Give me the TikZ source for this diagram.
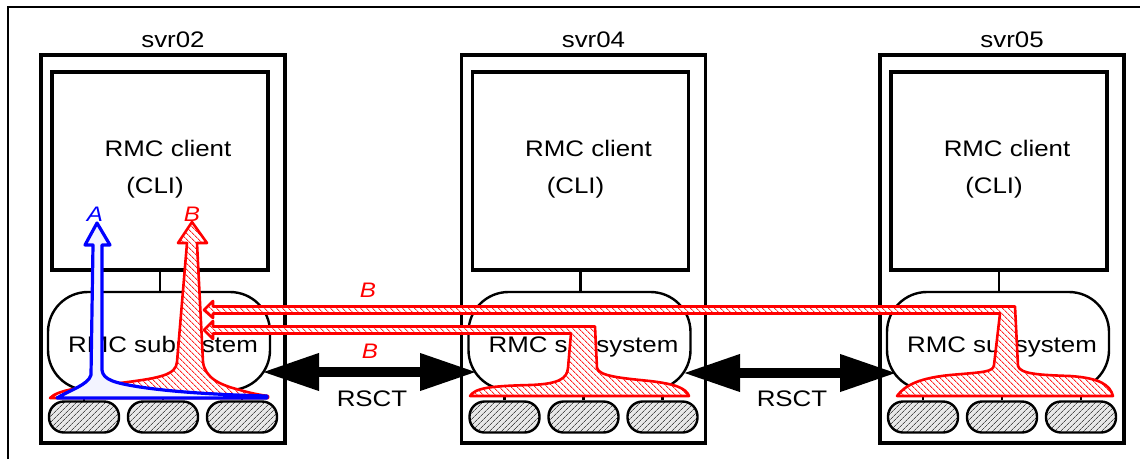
\documentclass[tikz,border=0pt]{standalone}
\usepackage{fontspec}
\setmainfont{Liberation Sans}[FakeStretch=1.15]
\usetikzlibrary{arrows.meta,patterns.meta}
\definecolor{afill}{RGB}{243,244,255}
\begin{document}
\begin{tikzpicture}[x=1pt,y=-1pt,
  every node/.style={font=\fontsize{22.5}{27}\selectfont, inner sep=0pt},
  srvbox/.style={draw, line width=3.4pt, minimum width=244pt, minimum height=388pt},
  clibox/.style={draw, line width=3.4pt, minimum width=216pt, minimum height=198pt},
  subbox/.style={draw, line width=2.4pt, rounded corners=40pt, minimum width=222pt, minimum height=98pt},
  diskbox/.style={draw, line width=2.4pt, rounded corners=15pt, minimum width=70pt, minimum height=31pt,
    preaction={fill=gray!18}, pattern={Lines[angle=45,distance=4pt,line width=0.8pt]}, pattern color=black!70},
  tick/.style={line width=2.4pt},
  rsct/.style={line width=10pt, {Triangle[length=57pt,width=35pt]}-{Triangle[length=57pt,width=35pt]}},
  redshape/.style={draw=red, line width=2.6pt, line join=round, preaction={fill=white},
    pattern={Lines[angle=-45,distance=4pt,line width=0.9pt]}, pattern color=red!85},
  blueshape/.style={draw=blue, line width=3.2pt, line join=round, fill=afill},
  lbl/.style={font=\fontsize{21}{24}\selectfont\itshape, anchor=base},
  frame/.style={line width=1.2pt}
]
\useasboundingbox (0,0) rectangle (1140,459);
\draw[frame] (8,459) -- (8,7) -- (1140,7);

\foreach \n/\cx in {02/163, 04/583.5, 05/1002} {
  \node[srvbox] (srv\n) at (\cx,249) {};
  \node[anchor=base] (lab\n) at (\cx+10,47) {svr\n};
  \node[clibox] (cli\n) at (\cx-3,171) {};
  \node[anchor=base] (clt\n) at (\cx+5,156.5) {RMC client};
  \node[anchor=base] (clc\n) at (\cx-8,193) {(CLI)};
  \node[subbox] (ss\n) at (\cx-4,341) {};
  \node[anchor=base] (sst\n) at (\cx,352) {RMC subsystem};
  \draw[tick] (cli\n.south) -- (cli\n.south |- ss\n.north);
  \foreach \k/\dx in {1/-79,2/0,3/79} {
    \node[diskbox] (dk\n\k) at (\cx+\dx,417) {};
    \draw[tick] (dk\n\k.north) -- (dk\n\k.north |- ss\n.south);
  }
}

% RSCT connections
\coordinate (r1a) at (262,372);
\coordinate (r1b) at (477,372);
\coordinate (r2a) at (683,373);
\coordinate (r2b) at (897,373);
\draw[rsct] (r1a) -- (r1b);
\draw[rsct] (r2a) -- (r2b);
\node[anchor=base] (rsct1) at (372,406) {RSCT};
\node[anchor=base] (rsct2) at (792,406) {RSCT};

% flow B from svr05 (upper bar)
\draw[redshape] (204,310) -- (213,301) -- (213,306.5) -- (1015,306.5) -- (1018,366)
  .. controls (1020,374) and (1040,375) .. (1070,376)
  .. controls (1100,378) and (1110,385) .. (1113,396)
  -- (897,396)
  .. controls (905,385) and (920,378) .. (950,375)
  .. controls (985,372) and (993,372) .. (994,365)
  -- (1000,313.5) -- (213,313.5) -- (213,318) -- cycle;

% flow B from svr04 (lower bar)
\draw[redshape] (204,330) -- (213,321) -- (213,326.5) -- (595,326.5) -- (597,368)
  .. controls (599,376) and (620,378) .. (650,381)
  .. controls (675,384) and (686,388) .. (689,396)
  -- (470,396)
  .. controls (475,388) and (490,386) .. (530,385)
  .. controls (560,384) and (567,378) .. (568,368)
  -- (571,333.5) -- (213,333.5) -- (213,339) -- cycle;

% flow B in svr02
\draw[redshape] (192,222) -- (207,243) -- (197,243) -- (203,362)
  .. controls (205,378) and (220,385) .. (240,390)
  .. controls (250,393) and (260,395) .. (268,396)
  -- (268,398) -- (50,398)
  .. controls (58,390) and (80,387) .. (120,383)
  .. controls (160,378) and (176,375) .. (177,362)
  -- (187,243) -- (178,243) -- cycle;

% flow A in svr02
\draw[blueshape] (97,223) -- (110,245) -- (102,245) -- (102,370)
  .. controls (103,380) and (115,383) .. (140,387)
  .. controls (180,393) and (230,395) .. (267,396)
  -- (267,398) -- (57,398)
  .. controls (70,390) and (88,385) .. (91,375)
  -- (93,245) -- (85,245) -- cycle;

\node[lbl, blue] (la) at (95,221) {A};
\node[lbl, red] (lb0) at (192,221) {B};
\node[lbl, red] (lb1) at (368,297) {B};
\node[lbl, red] (lb2) at (370,358) {B};
\end{tikzpicture}
\end{document}
